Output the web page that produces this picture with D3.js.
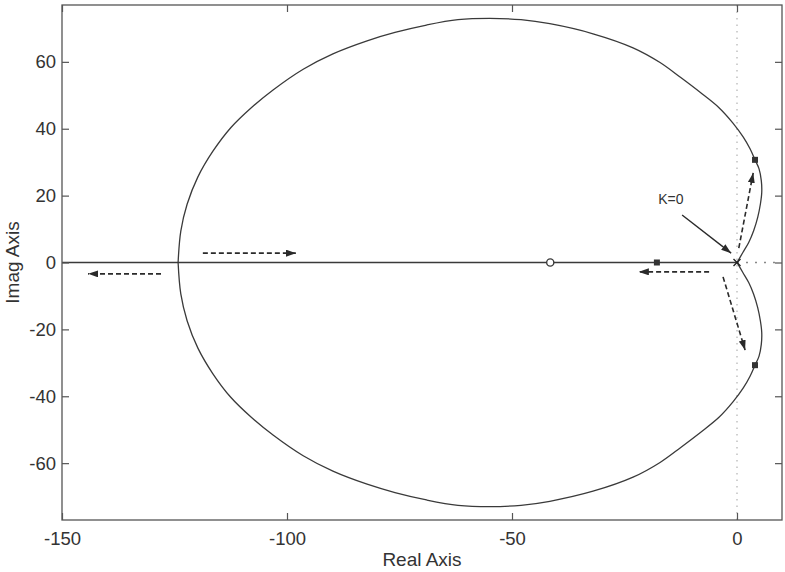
<!DOCTYPE html>
<html>
<head>
<meta charset="utf-8">
<script src="https://cdn.jsdelivr.net/npm/d3@7"></script>
<style>
  html, body { margin: 0; padding: 0; background: #fff; }
  svg { display: block; }
  text { font-family: "Liberation Sans", Arial, Helvetica, sans-serif; fill: #333; }
</style>
</head>
<body>
<svg id="chart" width="785" height="572"></svg>
<script>
// Root locus: upper branch from the double pole at the origin, round the loop to the break-in point
const upperRe = [0, 1.3, 2.6, 3.7, 4.6, 5.2, 5.5, 5.4, 4.9, 4.0, 2.9, 1.4, -0.9, -4.0, -8.2, -12.5, -17.1, -23.1, -32.0, -41.6, -48.0, -55.0, -62.0, -69.0, -76.0, -82.2, -89.8, -96.4, -103.1, -108.0, -112.5, -116.5, -119.8, -122.2, -123.6, -124.2];
const upperIm = [0, 3.0, 6.0, 9.5, 13.5, 17.5, 21.0, 24.5, 28.0, 30.7, 34.0, 37.5, 41.7, 46.3, 50.9, 55.3, 59.8, 64.2, 68.4, 71.4, 72.6, 73.0, 72.6, 71.0, 68.8, 66.3, 62.4, 57.8, 51.6, 46.2, 40.3, 33.2, 25.6, 17.4, 9.4, 0];
// Lower branch (complex-conjugate half)
const lowerRe = [0, 1.3, 2.6, 3.7, 4.6, 5.2, 5.5, 5.4, 4.9, 4.0, 2.9, 1.4, -0.9, -4.0, -8.2, -12.5, -17.1, -23.1, -32.0, -41.6, -48.0, -55.0, -62.0, -69.0, -76.0, -82.2, -89.8, -96.4, -103.1, -108.0, -112.5, -116.5, -119.8, -122.2, -123.6, -124.2];
const lowerIm = [0, -3.0, -6.0, -9.5, -13.5, -17.5, -21.0, -24.5, -28.0, -30.7, -34.0, -37.5, -41.7, -46.3, -50.9, -55.3, -59.8, -64.2, -68.4, -71.4, -72.6, -73.0, -72.6, -71.0, -68.8, -66.3, -62.4, -57.8, -51.6, -46.2, -40.3, -33.2, -25.6, -17.4, -9.4, 0];
// Real-axis segment of the locus
const realAxisLocus = [-150, 0];

// Markers
const polesRe = [0];
const polesIm = [0];
const zerosRe = [-41.5];
const zerosIm = [0];
const gainPointsRe = [4.0, 4.0, -17.8];
const gainPointsIm = [30.7, -30.7, 0];

// Direction arrows (dashed): start and end in axis units
const arrowFromRe = [-128, -118.7, -6.2, 0.4, -3.1];
const arrowFromIm = [-3.4, 2.8, -2.8, 4.3, -4.3];
const arrowToRe = [-144.2, -98.0, -21.8, 3.6, 1.8];
const arrowToIm = [-3.4, 2.8, -2.8, 26.8, -26.2];

// Annotation
const kLabel = "K=0";
const kLabelPos = [-14.7, 17.6];
const kArrowFrom = [-12.2, 14.2];
const kArrowTo = [-1.3, 2.8];

const xTicks = [-150, -100, -50, 0];
const yTicks = [-60, -40, -20, 0, 20, 40, 60];
const xDomain = [-150, 10];
const yDomain = [-77, 77];

const svg = d3.select("#chart");
const m = { left: 62, top: 5, right: 782, bottom: 520 };

const x = d3.scaleLinear().domain(xDomain).range([m.left, m.right]);
const y = d3.scaleLinear().domain(yDomain).range([m.bottom, m.top]);

const ink = "#3a3a3a";
const axisInk = "#555";

// Dotted zero lines
svg.append("line")
  .attr("x1", x(0)).attr("x2", x(0))
  .attr("y1", y(yDomain[1])).attr("y2", y(yDomain[0]))
  .attr("stroke", "#aaa").attr("stroke-width", 1.1).attr("stroke-dasharray", "1.5,5");
svg.append("line")
  .attr("x1", x(0)).attr("x2", x(xDomain[1]))
  .attr("y1", y(0)).attr("y2", y(0))
  .attr("stroke", "#888").attr("stroke-width", 1.3).attr("stroke-dasharray", "2,7");

// Locus branches
const line = d3.line().x(d => x(d[0])).y(d => y(d[1])).curve(d3.curveCatmullRom.alpha(0.5));
const upper = upperRe.map((r, i) => [r, upperIm[i]]);
const lower = lowerRe.map((r, i) => [r, lowerIm[i]]);
[upper, lower].forEach(pts => {
  svg.append("path").attr("d", line(pts))
    .attr("fill", "none").attr("stroke", ink).attr("stroke-width", 1.3);
});
svg.append("line")
  .attr("x1", x(realAxisLocus[0])).attr("x2", x(realAxisLocus[1]))
  .attr("y1", y(0)).attr("y2", y(0))
  .attr("stroke", ink).attr("stroke-width", 1.6);

// Arrowhead definitions
const defs = svg.append("defs");
defs.append("marker")
  .attr("id", "head").attr("viewBox", "0 0 10 7")
  .attr("refX", 10).attr("refY", 3.5)
  .attr("markerWidth", 10).attr("markerHeight", 7)
  .attr("markerUnits", "userSpaceOnUse")
  .attr("orient", "auto")
  .append("path").attr("d", "M0,0 L10,3.5 L0,7 Z").attr("fill", "#2a2a2a");

// Dashed direction arrows
arrowFromRe.forEach((r, i) => {
  svg.append("line")
    .attr("x1", x(r)).attr("y1", y(arrowFromIm[i]))
    .attr("x2", x(arrowToRe[i])).attr("y2", y(arrowToIm[i]))
    .attr("stroke", "#2a2a2a").attr("stroke-width", 1.6)
    .attr("stroke-dasharray", "5,3")
    .attr("marker-end", "url(#head)");
});

// K=0 annotation arrow and label
svg.append("line")
  .attr("x1", x(kArrowFrom[0])).attr("y1", y(kArrowFrom[1]))
  .attr("x2", x(kArrowTo[0])).attr("y2", y(kArrowTo[1]))
  .attr("stroke", "#2a2a2a").attr("stroke-width", 1.4)
  .attr("marker-end", "url(#head)");
svg.append("text")
  .attr("x", x(kLabelPos[0])).attr("y", y(kLabelPos[1]))
  .attr("text-anchor", "middle").attr("font-size", 14)
  .text(kLabel);

// Zero (open circle)
zerosRe.forEach((r, i) => {
  svg.append("circle").attr("cx", x(r)).attr("cy", y(zerosIm[i])).attr("r", 3.6)
    .attr("fill", "#fff").attr("stroke", ink).attr("stroke-width", 1.4);
});
// Open-loop pole (cross)
polesRe.forEach((r, i) => {
  const cx = x(r), cy = y(polesIm[i]), s = 3.5;
  svg.append("path")
    .attr("d", `M${cx - s},${cy - s}L${cx + s},${cy + s}M${cx - s},${cy + s}L${cx + s},${cy - s}`)
    .attr("stroke", "#222").attr("stroke-width", 1.4);
});
// Closed-loop poles at the chosen gain (filled squares)
gainPointsRe.forEach((r, i) => {
  svg.append("rect")
    .attr("x", x(r) - 3).attr("y", y(gainPointsIm[i]) - 3)
    .attr("width", 6).attr("height", 6)
    .attr("fill", "#333");
});

// Box and ticks
svg.append("rect")
  .attr("x", m.left).attr("y", m.top)
  .attr("width", m.right - m.left).attr("height", m.bottom - m.top)
  .attr("fill", "none").attr("stroke", axisInk).attr("stroke-width", 1.3);

const plain = d => String(d);
const tickLen = 7;
const xAxisB = d3.axisBottom(x).tickValues(xTicks).tickSize(-tickLen).tickPadding(12).tickFormat(plain);
const gx = svg.append("g").attr("transform", `translate(0,${m.bottom})`).call(xAxisB);
const xAxisT = d3.axisTop(x).tickValues(xTicks).tickSize(-tickLen).tickFormat("");
const gxt = svg.append("g").attr("transform", `translate(0,${m.top})`).call(xAxisT);
const yAxisL = d3.axisLeft(y).tickValues(yTicks).tickSize(-tickLen).tickPadding(6).tickFormat(plain);
const gy = svg.append("g").attr("transform", `translate(${m.left},0)`).call(yAxisL);
const yAxisR = d3.axisRight(y).tickValues(yTicks).tickSize(-tickLen).tickFormat("");
const gyr = svg.append("g").attr("transform", `translate(${m.right},0)`).call(yAxisR);

[gx, gxt, gy, gyr].forEach(g => {
  g.select(".domain").remove();
  g.selectAll(".tick line").attr("stroke", axisInk).attr("stroke-width", 1.2);
  g.selectAll(".tick text").attr("font-size", 18.5).attr("fill", "#333")
    .attr("font-family", "'Liberation Sans', Arial, sans-serif");
});

// Axis titles
svg.append("text")
  .attr("x", (m.left + m.right) / 2).attr("y", 566)
  .attr("text-anchor", "middle").attr("font-size", 19)
  .text("Real Axis");
svg.append("text")
  .attr("transform", `translate(19,${y(0)}) rotate(-90)`)
  .attr("text-anchor", "middle").attr("font-size", 19)
  .text("Imag Axis");
</script>
</body>
</html>
